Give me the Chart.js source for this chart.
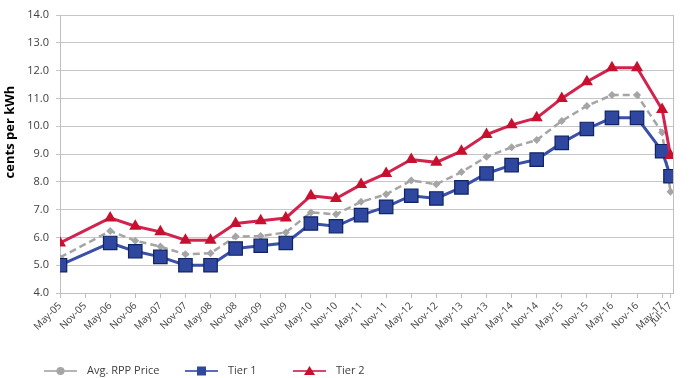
<!DOCTYPE html>
<html>
<head>
<meta charset="utf-8">
<script src="https://cdn.jsdelivr.net/npm/chart.js@4"></script>
<style>
html,body{margin:0;padding:0;background:#fff;}
#wrap{width:695px;height:378px;position:relative;}
</style>
</head>
<body>
<div id="wrap"><canvas id="c" width="695" height="378"></canvas></div>
<script>
// ---- data ----
const pointDates = ['May-05','May-06','Nov-06','May-07','Nov-07','May-08','Nov-08','May-09','Nov-09','May-10','Nov-10','May-11','Nov-11','May-12','Nov-12','May-13','Nov-13','May-14','Nov-14','May-15','Nov-15','May-16','Nov-16','May-17','Jul-17'];
const avgRPP = [5.28,6.23,5.88,5.67,5.39,5.43,6.03,6.05,6.18,6.90,6.83,7.28,7.55,8.05,7.91,8.35,8.90,9.24,9.50,10.19,10.73,11.12,11.12,9.77,7.64];
const tier1  = [5.0,5.8,5.5,5.3,5.0,5.0,5.6,5.7,5.8,6.5,6.4,6.8,7.1,7.5,7.4,7.8,8.3,8.6,8.8,9.4,9.9,10.3,10.3,9.1,8.2];
const tier2  = [5.8,6.7,6.4,6.2,5.9,5.9,6.5,6.6,6.7,7.5,7.4,7.9,8.3,8.8,8.7,9.1,9.7,10.05,10.3,11.0,11.6,12.1,12.1,10.6,8.95];
const tickLabels = ['May-05','Nov-05','May-06','Nov-06','May-07','Nov-07','May-08','Nov-08','May-09','Nov-09','May-10','Nov-10','May-11','Nov-11','May-12','Nov-12','May-13','Nov-13','May-14','Nov-14','May-15','Nov-15','May-16','Nov-16','May-17','Jul-17'];
const seriesNames = ['Avg. RPP Price','Tier 1','Tier 2'];
const yTitle = 'cents per kWh';

const MONTHS = {Jan:0,Feb:1,Mar:2,Apr:3,May:4,Jun:5,Jul:6,Aug:7,Sep:8,Oct:9,Nov:10,Dec:11};
function monthIndex(lbl){
  const [m, yy] = lbl.split('-');
  return (2000 + parseInt(yy,10) - 2005) * 12 + MONTHS[m] - 4;
}
const labelByIndex = {};
tickLabels.forEach(l => { labelByIndex[monthIndex(l)] = l; });
const toPts = arr => arr.map((v,i) => ({x: monthIndex(pointDates[i]), y: v}));

const FONT = '"Open Sans", "DejaVu Sans", sans-serif';
const colors = {
  avg: {line:'#a5a5a5', fill:'#a5a5a5'},
  t1: {line:'#3a4fa8', fill:'#2f479f', border:'#0f2462'},
  t2: {line:'#d2234f', fill:'#c8102e', border:'#c8102e'}
};

const extras = {
  id: 'extras',
  afterDraw(chart){
    const ctx = chart.ctx, ca = chart.chartArea;
    ctx.save();
    // right border of plot area
    ctx.strokeStyle = '#bfbfbf'; ctx.lineWidth = 1;
    ctx.beginPath(); ctx.moveTo(Math.round(ca.right)+0.5, ca.top); ctx.lineTo(Math.round(ca.right)+0.5, ca.bottom); ctx.stroke();
    // y title
    ctx.save();
    ctx.translate(10, 132);
    ctx.rotate(-Math.PI/2);
    ctx.font = 'bold 13px ' + FONT;
    ctx.fillStyle = '#000';
    ctx.textAlign = 'center'; ctx.textBaseline = 'middle';
    ctx.fillText(yTitle, 0, 0);
    ctx.restore();
    // legend
    const ly = 371;
    const items = [
      {x:44, name:seriesNames[0], c:'#b5b5b5', mk:'circle', f:colors.avg.fill},
      {x:185, name:seriesNames[1], c:'#5a6cb8', mk:'rect', f:colors.t1.fill},
      {x:293, name:seriesNames[2], c:'#d8476c', mk:'triangle', f:colors.t2.fill}
    ];
    items.forEach(it => {
      ctx.strokeStyle = it.c; ctx.lineWidth = 2; ctx.setLineDash([]);
      ctx.beginPath(); ctx.moveTo(it.x, ly); ctx.lineTo(it.x+33, ly); ctx.stroke();
      ctx.fillStyle = it.f;
      const cx = it.x + 16.5;
      ctx.beginPath();
      if (it.mk === 'circle') { ctx.arc(cx, ly, 4, 0, Math.PI*2); }
      else if (it.mk === 'rect') { ctx.rect(cx-4.5, ly-4.5, 9, 9); }
      else { ctx.moveTo(cx, ly-5); ctx.lineTo(cx+5.5, ly+4); ctx.lineTo(cx-5.5, ly+4); ctx.closePath(); }
      ctx.fill();
      ctx.fillStyle = '#404040';
      ctx.font = '11px ' + FONT;
      ctx.textAlign = 'left'; ctx.textBaseline = 'middle';
      ctx.fillText(it.name, it.x + 43, ly);
    });
    ctx.restore();
  }
};

new Chart(document.getElementById('c'), {
  type: 'line',
  data: {
    datasets: [
      {label: seriesNames[0], data: toPts(avgRPP), borderColor: colors.avg.line, backgroundColor: colors.avg.fill,
       borderWidth: 2.5, borderDash: [7,4], pointStyle: 'rectRot', pointRadius: 4, pointBorderWidth: 0, pointBackgroundColor: colors.avg.fill, order: 3},
      {label: seriesNames[1], data: toPts(tier1), borderColor: colors.t1.line, backgroundColor: colors.t1.fill,
       borderWidth: 3, pointStyle: 'rect', pointRadius: 9.5, pointBorderWidth: 1.2, pointBorderColor: colors.t1.border, pointBackgroundColor: colors.t1.fill, order: 2},
      {label: seriesNames[2], data: toPts(tier2), borderColor: colors.t2.line, backgroundColor: colors.t2.fill,
       borderWidth: 3, pointStyle: 'triangle', pointRadius: 7, pointBorderWidth: 0, pointBackgroundColor: colors.t2.fill, order: 1}
    ]
  },
  options: {
    responsive: false,
    animation: false,
    devicePixelRatio: 1,
    layout: {padding: {left: 0, top: 15, right: 22, bottom: 0}},
    plugins: {legend: {display: false}, tooltip: {enabled: false}},
    elements: {line: {tension: 0}},
    scales: {
      x: {
        type: 'linear', min: 0, max: 146.6,
        afterBuildTicks: s => { s.ticks = tickLabels.map(l => ({value: monthIndex(l)})); },
        afterFit: s => { s.height = 85; },
        ticks: {autoSkip: false, maxRotation: 45, minRotation: 45, padding: 2,
          color: '#404040', font: {family: FONT, size: 10},
          callback: v => labelByIndex[v] || ''},
        grid: {display: true, drawOnChartArea: false, drawTicks: true, tickLength: 5, color: '#bfbfbf'},
        border: {display: true, color: '#bfbfbf'}
      },
      y: {
        min: 4, max: 14,
        afterFit: s => { s.width = 60; },
        ticks: {stepSize: 1, padding: 7, color: '#404040', font: {family: FONT, size: 11},
          callback: v => Number(v).toFixed(1)},
        grid: {color: '#c6c6c6', tickLength: 4, lineWidth: 1},
        border: {display: true, color: '#bfbfbf'}
      }
    }
  },
  plugins: [extras]
});
</script>
</body>
</html>
